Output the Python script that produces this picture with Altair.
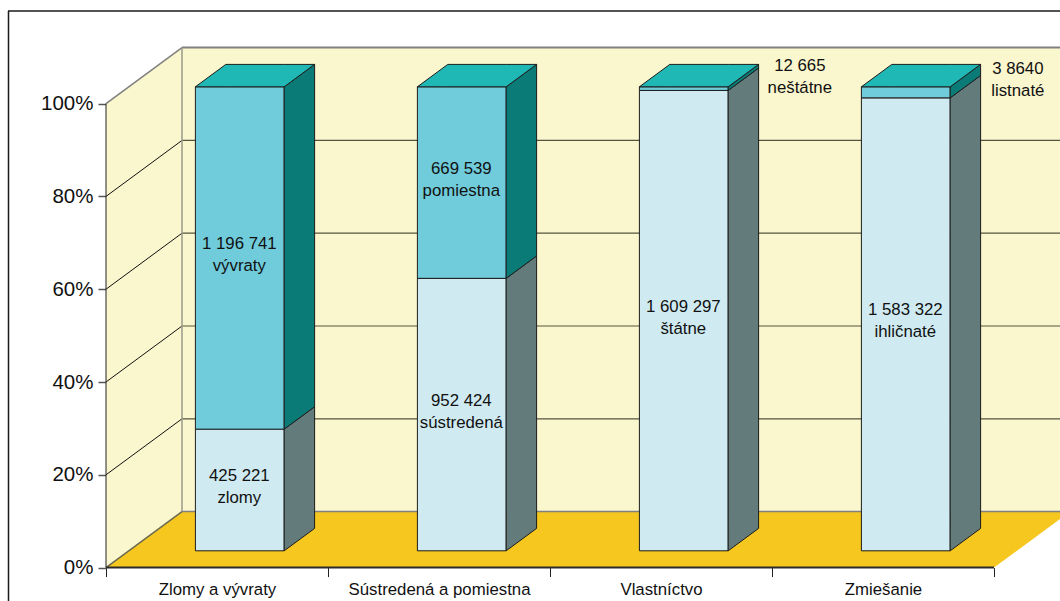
import json
import altair as alt
import pandas as pd

# Forest felling volumes by category, split into two groups per column
categories = ["Zlomy a vývraty", "Sústredená a pomiestna", "Vlastníctvo", "Zmiešanie"]
lower_values = [425221, 952424, 1609297, 1583322]
upper_values = [1196741, 669539, 12665, 38640]
lower_labels = ["425 221\nzlomy", "952 424\nsústredená", "1 609 297\nštátne", "1 583 322\nihličnaté"]
upper_labels = ["1 196 741\nvývraty", "669 539\npomiestna", "12 665\nneštátne", "3 8640\nlistnaté"]
percent_ticks = [0, 20, 40, 60, 80, 100]

FONT = "Liberation Sans"
W, H = 1060, 601

# Oblique projection: category units across, percent up, plus the depth vector
PX_PER_CAT, PX_PER_PCT = 222, 4.64
ORIGIN_X, ORIGIN_Y = 106, 567.6
DEPTH_X = 76 / PX_PER_CAT
DEPTH_Y = 56 / PX_PER_PCT
BAR_WIDTH = 0.4
BAR_GAP = 0.3
BAR_DEPTH_START, BAR_DEPTH = 0.3, 0.4
N = len(categories)

x_scale = alt.Scale(domain=[-ORIGIN_X / PX_PER_CAT, (W - ORIGIN_X) / PX_PER_CAT], nice=False, zero=False)
y_scale = alt.Scale(domain=[(ORIGIN_Y - H) / PX_PER_PCT, ORIGIN_Y / PX_PER_PCT], nice=False, zero=False)

WALL, FLOOR = "#FAF6CD", "#F6C71E"
TOP_FACE = "#1FB8B4"
UPPER_FRONT, UPPER_SIDE = "#70CCDB", "#0B7B78"
LOWER_FRONT, LOWER_SIDE = "#CFEBF1", "#637C7B"
EDGE_GRAY = "#808080"


def box_side(name, x, y0, y1, dx, dy, fill):
    """Parallelogram with vertical edges at x and x + dx."""
    return [
        dict(face=name, x=x, y=y0, y2=y1, fill=fill),
        dict(face=name, x=x + dx, y=y0 + dy, y2=y1 + dy, fill=fill),
    ]


def box_top(name, x0, x1, y, dx, dy, fill):
    """Parallelogram with horizontal edges, sliced along x for the area mark."""
    return [
        dict(face=name, x=x0, y=y, y2=y, fill=fill),
        dict(face=name, x=x0 + dx, y=y + dy, y2=y, fill=fill),
        dict(face=name, x=x1, y=y + dy, y2=y, fill=fill),
        dict(face=name, x=x1 + dx, y=y + dy, y2=y + dy, fill=fill),
    ]


# Back wall, side wall and floor
walls = (
    box_side("back", DEPTH_X, DEPTH_Y, 100 + DEPTH_Y, N, 0, WALL)
    + box_side("side", 0, 0, 100, DEPTH_X, DEPTH_Y, WALL)
)
floor = box_top("floor", 0, N, 0, DEPTH_X, DEPTH_Y, FLOOR)

# Gridlines run along the side wall and then across the back wall
grid, edges = [], []
for p in percent_ticks[1:-1]:
    grid.append(dict(x=0, x2=DEPTH_X, y=p, y2=p + DEPTH_Y, color="#111111", width=1))
    grid.append(dict(x=DEPTH_X, x2=N + DEPTH_X, y=p + DEPTH_Y, y2=p + DEPTH_Y, color="#55553f", width=1.2))
edges.append(dict(x=0, x2=DEPTH_X, y=100, y2=100 + DEPTH_Y, color=EDGE_GRAY, width=1.5))
edges.append(dict(x=DEPTH_X, x2=N + DEPTH_X, y=100 + DEPTH_Y, y2=100 + DEPTH_Y, color=EDGE_GRAY, width=2))
edges.append(dict(x=DEPTH_X, x2=DEPTH_X, y=DEPTH_Y, y2=100 + DEPTH_Y, color="#9a9a8a", width=1.5))
edges.append(dict(x=0, x2=DEPTH_X, y=0, y2=DEPTH_Y, color="#6b6b50", width=1.5))
edges.append(dict(x=DEPTH_X, x2=N + DEPTH_X, y=DEPTH_Y, y2=DEPTH_Y, color=EDGE_GRAY, width=1.5))
edges.append(dict(x=0, x2=0, y=0, y2=100, color="#222222", width=1))

# Stacked columns in 100 % share, drawn as front, side and top faces
bars, labels = [], []
sx, sy = BAR_DEPTH_START * DEPTH_X, BAR_DEPTH_START * DEPTH_Y
bx, by = BAR_DEPTH * DEPTH_X, BAR_DEPTH * DEPTH_Y
label_nudges = {2: (116, -23), 3: (112, -23)}
for i in range(N):
    total = lower_values[i] + upper_values[i]
    split = 100 * lower_values[i] / total
    x0 = i + BAR_GAP + sx
    x1 = x0 + BAR_WIDTH
    for seg, lo, hi, front, side in (
        ("l", 0, split, LOWER_FRONT, LOWER_SIDE),
        ("u", split, 100, UPPER_FRONT, UPPER_SIDE),
    ):
        bars += box_side(f"{seg}{i}f", x0, lo + sy, hi + sy, BAR_WIDTH, 0, front)
        bars += box_side(f"{seg}{i}s", x1, lo + sy, hi + sy, bx, by, side)
    bars += box_top(f"t{i}", x0, x1, 100 + sy, bx, by, TOP_FACE)

    xc = (x0 + x1) / 2
    labels.append(dict(x=xc, y=split / 2 + sy, text=lower_labels[i], dx=-0.5, dy=-14))
    ndx, ndy = label_nudges.get(i, (-0.5, -14))
    labels.append(dict(x=xc, y=(split + 100) / 2 + sy, text=upper_labels[i], dx=ndx, dy=ndy))

label_expr = "(" + json.dumps(categories, ensure_ascii=False) + ")[datum.value] || ''"
x_axis = alt.Axis(
    values=list(range(N + 1)), orient="bottom", offset=ORIGIN_Y - H, domain=False, grid=False,
    tickSize=9, tickWidth=1, tickColor="#222222", labelExpr=label_expr, labelOffset=PX_PER_CAT / 2,
    labelFont=FONT, labelFontSize=16.8, labelColor="#111111", labelPadding=5, labelOverlap=False,
    labelBound=False, labelFlush=False, labelAngle=0, labelLimit=400,
)
y_axis = alt.Axis(
    values=percent_ticks, orient="left", offset=-ORIGIN_X, domain=False, grid=False,
    tickSize=8, tickWidth=1.5, tickColor="#555555", labelExpr="datum.value + '%'",
    labelFont=FONT, labelFontSize=20.5, labelColor="#111111", labelPadding=5, labelOverlap=False,
    labelBound=False, labelFlush=False,
)

X = alt.X("x:Q", scale=x_scale, title=None, axis=x_axis)
Y = alt.Y("y:Q", scale=y_scale, title=None, stack=False, axis=y_axis)


def polygons(rows, **mark):
    return alt.Chart(pd.DataFrame(rows)).mark_area(clip=True, **mark).encode(
        x=X, y=Y, y2="y2:Q", detail="face:N", fill=alt.Fill("fill:N", scale=None),
    )


def segments(rows):
    return alt.Chart(pd.DataFrame(rows)).mark_rule(clip=True).encode(
        x=X, x2="x2:Q", y=Y, y2="y2:Q",
        color=alt.Color("color:N", scale=None), strokeWidth=alt.StrokeWidth("width:Q", scale=None),
    )


frame_data = pd.DataFrame({"k": [0]})
frame_top = alt.Chart(frame_data).mark_rule(color="#1a1a1a", strokeWidth=1.5).encode(
    x=alt.value(8), x2=alt.value(W), y=alt.value(11)
)
frame_left = alt.Chart(frame_data).mark_rule(color="#1a1a1a", strokeWidth=1.5).encode(
    x=alt.value(8.5), y=alt.value(11), y2=alt.value(H)
)

front_edge = segments([dict(x=0, x2=N, y=0, y2=0, color="#2a2a2a", width=2)])

bar_layer = polygons(bars, stroke="#1c1c1c", strokeWidth=1)

label_layers = [
    alt.Chart(pd.DataFrame([r for r in labels if r["dx"] == dx and r["dy"] == dy])).mark_text(
        font=FONT, fontSize=16.8, color="#111111", lineBreak="\n", lineHeight=22,
        align="center", baseline="middle", dx=dx, dy=dy,
    ).encode(x=X, y=Y, text="text:N")
    for dx, dy in sorted({(r["dx"], r["dy"]) for r in labels})
]

chart = alt.layer(
    polygons(walls),
    segments(grid),
    polygons(floor),
    segments(edges),
    front_edge,
    bar_layer,
    *label_layers,
    frame_top,
    frame_left,
).properties(
    width=W, height=H, padding=0, autosize=alt.AutoSizeParams(type="none"), background="white",
).configure_view(stroke=None)

chart.save("out.html", embed_options={"renderer": "svg", "actions": False})
